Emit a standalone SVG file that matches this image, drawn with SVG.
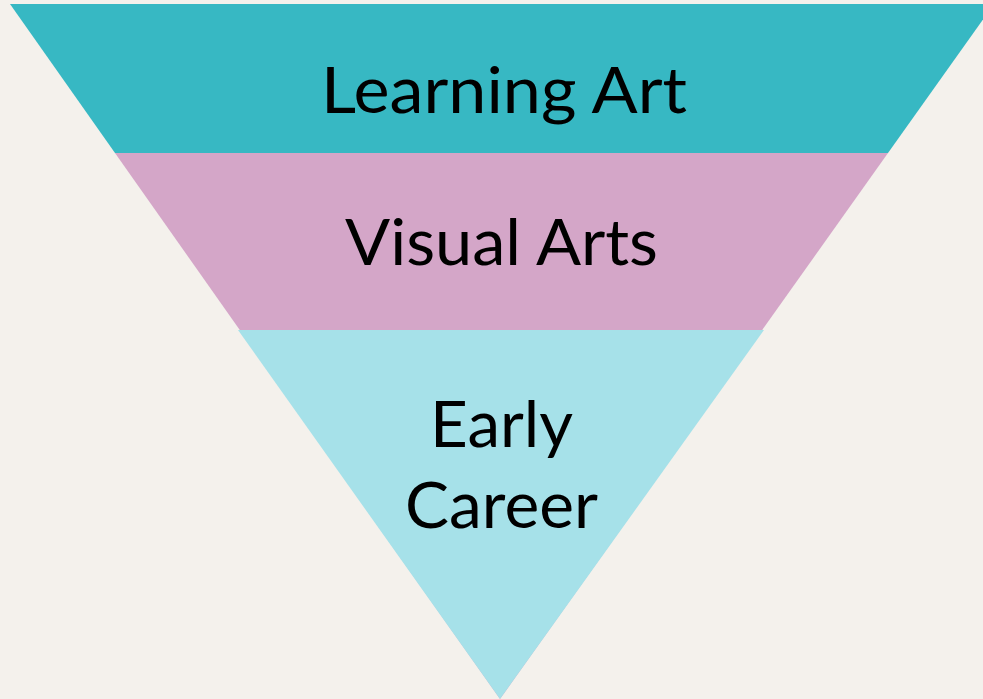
<svg xmlns="http://www.w3.org/2000/svg" width="983" height="699" viewBox="0 0 983 699">
  <style>
    .label { font-family: Lato, "Noto Sans", "Liberation Sans", sans-serif; font-size: 64px; fill: #000000; text-anchor: middle; }
  </style>
  <rect x="0" y="0" width="983" height="699" fill="#F4F1EC"/>
  <!-- Inverted funnel: three stacked bands -->
  <g id="band-visual-arts">
    <polygon points="115,153 888,153 500,699" fill="#D4A6C8"/>
    <text class="label" x="501.5" y="265" textLength="313" lengthAdjust="spacingAndGlyphs">Visual Arts</text>
  </g>
  <g id="band-learning-art">
    <polygon points="10,4 994,4 888,153 115,153" fill="#37B8C3"/>
    <text class="label" x="504" y="113" textLength="366" lengthAdjust="spacingAndGlyphs">Learning Art</text>
  </g>
  <g id="band-early-career">
    <polygon points="238,330 764,330 500,699" fill="#A6E1E9"/>
    <text class="label" x="501.5" y="447" textLength="143" lengthAdjust="spacingAndGlyphs">Early</text>
    <text class="label" x="501.5" y="528" textLength="193" lengthAdjust="spacingAndGlyphs">Career</text>
  </g>
  <g id="connectors"/>
</svg>
